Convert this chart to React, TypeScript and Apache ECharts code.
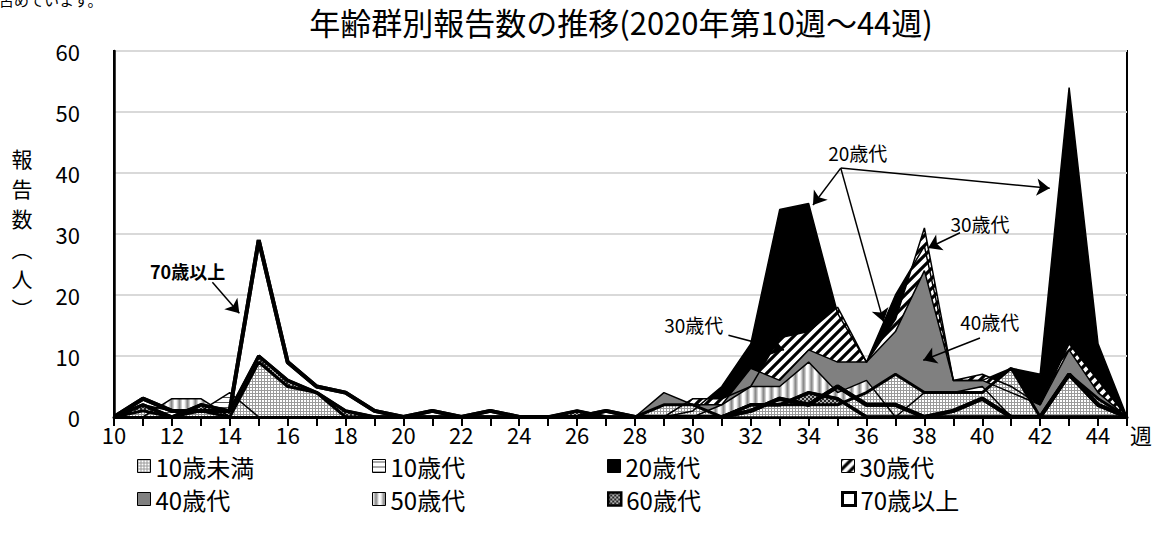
import React, { useEffect, useRef } from "react";
import * as echarts from "echarts";

const FONT = "'Noto Sans CJK JP', 'Noto Sans', sans-serif";

const weeks = [10, 11, 12, 13, 14, 15, 16, 17, 18, 19, 20, 21, 22, 23, 24, 25, 26, 27, 28, 29, 30, 31, 32, 33, 34, 35, 36, 37, 38, 39, 40, 41, 42, 43, 44, 45];

const under10 = [0, 1, 0, 1, 0, 9, 5, 4, 0, 0, 0, 0, 0, 0, 0, 0, 0, 0, 0, 2, 2, 0, 2, 2, 2, 2, 4, 7, 4, 4, 4, 8, 0, 7, 3, 0];
const teens = [0, 2, 1, 1, 4, 0, 0, 0, 0, 0, 0, 0, 0, 0, 0, 0, 0, 0, 0, 0, 0, 0, 0, 0, 0, 0, 0, 0, 4, 4, 5, 0, 0, 0, 0, 0];
const twenties = [0, 0, 0, 0, 0, 0, 0, 0, 0, 0, 0, 0, 0, 0, 0, 0, 0, 0, 0, 0, 1, 5, 12, 34, 35, 17, 9, 20, 28, 6, 6, 8, 7, 54, 12, 0];
const thirties = [0, 0, 0, 0, 0, 0, 0, 0, 0, 0, 0, 0, 0, 0, 0, 0, 0, 0, 0, 0, 3, 3, 5, 13, 14, 18, 9, 16, 31, 6, 7, 5, 2, 12, 6, 0];
const forties = [0, 0, 0, 0, 0, 0, 0, 0, 0, 0, 0, 0, 0, 0, 0, 0, 0, 0, 0, 4, 2, 2, 8, 6, 11, 9, 9, 14, 24, 6, 6, 4, 2, 11, 4, 0];
const fifties = [0, 0, 3, 3, 0, 0, 0, 0, 0, 0, 0, 0, 0, 0, 0, 0, 0, 0, 0, 0, 0, 2, 5, 5, 9, 4, 6, 0, 0, 0, 0, 0, 0, 0, 0, 0];
const sixties = [0, 2, 0, 2, 1, 10, 6, 4, 1, 0, 0, 0, 0, 0, 0, 0, 1, 0, 0, 0, 0, 0, 2, 2, 4, 3, 0, 0, 0, 0, 0, 0, 0, 0, 0, 0];
const seventies = [0, 3, 1, 1, 1, 29, 9, 5, 4, 1, 0, 1, 0, 1, 0, 0, 0, 1, 0, 0, 0, 0, 1, 3, 2, 5, 2, 2, 0, 1, 3, 0, 0, 7, 2, 0];

const legendNames = ["10歳未満", "10歳代", "20歳代", "30歳代", "40歳代", "50歳代", "60歳代", "70歳以上"];
const yTicks = [0, 10, 20, 30, 40, 50, 60];

const titleText = "年齢群別報告数の推移(2020年第10週～44週)";
const yName = "報\n告\n数\n︵\n人\n︶";
const clippedText = "占めています。";

const annotationLabels = [
  { text: "70歳以上", at: [12.54, 23.9], bold: true },
  { text: "30歳代", at: [30.03, 15.1], bold: false },
  { text: "20歳代", at: [35.7, 43.3], bold: false },
  { text: "30歳代", at: [39.92, 31.8], bold: false },
  { text: "40歳代", at: [40.26, 15.6], bold: false },
];
const annotationArrows = [
  [[13.4, 22.1], [14.33, 17.0]],
  [[31.23, 13.4], [33.15, 11.0]],
  [[35.11, 40.8], [34.15, 34.75]],
  [[35.11, 40.8], [36.59, 15.6]],
  [[35.11, 40.8], [42.33, 37.5]],
  [[39.23, 30.2], [38.13, 27.7]],
  [[39.92, 12.95], [37.96, 9.3]],
];

function tile(w: number, h: number, draw: (c: CanvasRenderingContext2D) => void) {
  const cv = document.createElement("canvas");
  cv.width = w;
  cv.height = h;
  const ctx = cv.getContext("2d")!;
  draw(ctx);
  return { image: cv, repeat: "repeat", imageWidth: w, imageHeight: h } as any;
}

export default function App() {
  const ref = useRef<HTMLDivElement>(null);
  useEffect(() => {
    const chart = echarts.init(ref.current!, null, { renderer: "svg" });

    const pU10 = tile(3, 3, (c) => {
      c.fillStyle = "#ffffff";
      c.fillRect(0, 0, 3, 3);
      c.fillStyle = "#9a9a9a";
      c.fillRect(0, 0, 3, 1);
      c.fillRect(0, 0, 1, 3);
    });
    const pTeens = tile(4, 5, (c) => {
      c.fillStyle = "#ffffff";
      c.fillRect(0, 0, 4, 5);
      c.fillStyle = "#555555";
      c.fillRect(0, 2, 4, 1);
    });
    const p30 = tile(10, 10, (c) => {
      c.fillStyle = "#ffffff";
      c.fillRect(0, 0, 10, 10);
      c.strokeStyle = "#000000";
      c.lineWidth = 3.2;
      c.beginPath();
      c.moveTo(-1, 11); c.lineTo(11, -1);
      c.moveTo(-6, 6); c.lineTo(6, -6);
      c.moveTo(4, 16); c.lineTo(16, 4);
      c.stroke();
    });
    const p50 = tile(8, 2, (c) => {
      const cols = ["#f2f2f2", "#d0d0d0", "#a8a8a8", "#8a8a8a", "#a8a8a8", "#cfcfcf", "#ffffff", "#ffffff"];
      cols.forEach((col, i) => {
        c.fillStyle = col;
        c.fillRect(i, 0, 1, 2);
      });
    });
    const p60 = tile(4, 4, (c) => {
      c.fillStyle = "#b0b0b0";
      c.fillRect(0, 0, 4, 4);
      c.fillStyle = "#262626";
      c.fillRect(0, 0, 2, 2);
      c.fillRect(2, 2, 2, 2);
    });

    const pts = (arr: number[]) => weeks.map((w, i) => [w, arr[i]]);
    const area = (name: string, arr: number[], fill: any, lw: number) => ({
      name,
      type: "line",
      data: pts(arr),
      symbol: "none",
      showSymbol: false,
      silent: true,
      lineStyle: { color: "#000", width: lw },
      itemStyle: { color: "#000" },
      areaStyle: { color: fill, opacity: 1 },
      emphasis: { disabled: true },
    });
    const lineOnly = (name: string, arr: number[], lw: number) => ({
      name,
      type: "line",
      data: pts(arr),
      symbol: "none",
      showSymbol: false,
      silent: true,
      lineStyle: { color: "#000", width: lw },
      itemStyle: { color: "#000" },
      emphasis: { disabled: true },
    });

    const overlay70: any = lineOnly("70歳以上", seventies, 4);
    overlay70.markLine = {
      silent: true,
      symbol: ["none", "arrow"],
      symbolSize: 13,
      lineStyle: { color: "#000", width: 1.5, type: "solid" },
      label: { show: false },
      emphasis: { disabled: true },
      data: annotationArrows.map((a) => [{ coord: a[0] }, { coord: a[1] }]),
    };
    overlay70.markPoint = {
      silent: true,
      symbol: "rect",
      symbolSize: 1,
      itemStyle: { color: "rgba(0,0,0,0)" },
      data: annotationLabels.map((a) => ({
        coord: a.at,
        value: 0,
        label: {
          show: true,
          position: "inside",
          formatter: a.text,
          color: "#000",
          fontSize: a.bold ? 18 : 19,
          fontWeight: a.bold ? "bold" : "normal",
          fontFamily: FONT,
        },
      })),
    };

    const legendStyles: any[] = [
      { color: pU10, borderColor: "#000", borderWidth: 1 },
      { color: pTeens, borderColor: "#000", borderWidth: 1 },
      { color: "#000", borderColor: "#000", borderWidth: 1 },
      { color: p30, borderColor: "#000", borderWidth: 1 },
      { color: "#808080", borderColor: "#000", borderWidth: 1 },
      { color: p50, borderColor: "#000", borderWidth: 1 },
      { color: p60, borderColor: "#000", borderWidth: 2.5 },
      { color: "#fff", borderColor: "#000", borderWidth: 3 },
    ];
    const legendLeft = [137, 372, 607, 841];
    const legendTop = [454, 487];

    const option: any = {
      animation: false,
      backgroundColor: "#fff",
      textStyle: { fontFamily: FONT },
      grid: { left: 114, right: 22, top: 51, bottom: 123, show: true, borderColor: "#000", borderWidth: 2, backgroundColor: "transparent" },
      graphic: [
        { type: "text", x: 621, y: 21, style: { text: titleText, align: "center", verticalAlign: "middle", fontSize: 31, fontFamily: FONT, fill: "#000" } },
        { type: "text", x: 22, y: 233, style: { text: yName, align: "center", verticalAlign: "middle", fontSize: 21, lineHeight: 30, fontFamily: FONT, fill: "#000" } },
        { type: "text", x: -1, y: -8, style: { text: clippedText, align: "left", verticalAlign: "top", fontSize: 15, fontFamily: FONT, fill: "#000" } },
      ],
      xAxis: {
        type: "value",
        min: 10,
        max: 45,
        interval: 1,
        name: "週",
        nameLocation: "end",
        nameGap: 3,
        nameTextStyle: { fontSize: 22, color: "#000", fontFamily: FONT, verticalAlign: "top", padding: [6, 0, 0, 0] },
        axisLine: { show: true, onZero: false, lineStyle: { color: "#000", width: 3 } },
        axisTick: { show: true, inside: false, length: 9, lineStyle: { color: "#000", width: 2 } },
        axisLabel: {
          margin: 6,
          fontSize: 22,
          lineHeight: 22,
          color: "#000",
          fontFamily: FONT,
          formatter: (v: number) => (v % 2 === 0 && v < 45 ? String(v) : ""),
        },
        splitLine: { show: false },
      },
      yAxis: {
        type: "value",
        min: yTicks[0],
        max: yTicks[yTicks.length - 1],
        interval: 10,
        axisLine: { show: true, lineStyle: { color: "#000", width: 2.5 } },
        axisTick: { show: false },
        axisLabel: { margin: 34, fontSize: 22, color: "#000", fontFamily: FONT },
        splitLine: { show: true, lineStyle: { color: "#d9d9d9", width: 2 } },
      },
      legend: legendNames.map((n, i) => ({
        data: [{ name: n, icon: "rect", itemStyle: legendStyles[i] }],
        left: legendLeft[i % 4],
        top: legendTop[Math.floor(i / 4)],
        itemWidth: 13,
        itemHeight: 13,
        padding: 0,
        selectedMode: false,
        textStyle: { fontSize: 24, lineHeight: 24, color: "#000", fontFamily: FONT },
      })),
      series: [
        area("70歳以上", seventies, "#ffffff", 4),
        area("20歳代", twenties, "#000000", 1.5),
        area("30歳代", thirties, p30, 1.5),
        area("40歳代", forties, "#808080", 1.5),
        area("50歳代", fifties, p50, 1.5),
        area("10歳代", teens, pTeens, 1.5),
        area("60歳代", sixties, p60, 3),
        area("10歳未満", under10, pU10, 3),
        lineOnly("60歳代", sixties, 3.5),
        overlay70,
      ],
    };
    chart.setOption(option);
    return () => chart.dispose();
  }, []);
  return <div ref={ref} style={{ position: "fixed", left: 0, top: 0, width: 1155, height: 540 }} />;
}
